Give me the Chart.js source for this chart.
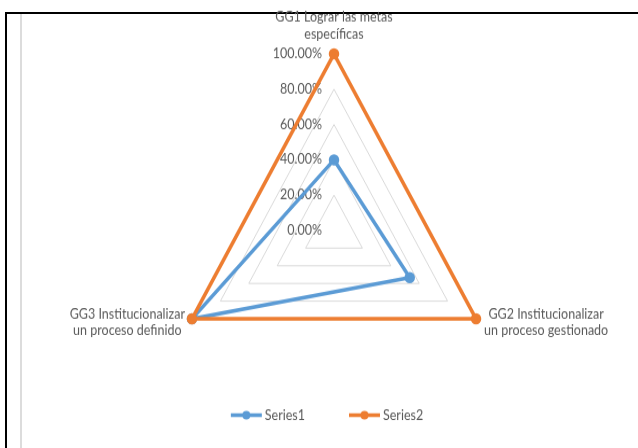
<!DOCTYPE html>
<html>
<head>
<meta charset="utf-8">
<script src="https://cdn.jsdelivr.net/npm/chart.js@4"></script>
<style>
body { margin: 0; background: #fff; overflow: hidden; }
#frame { position: absolute; left: 5px; top: 12px; width: 640px; height: 440px; border-left: 2px solid #000; border-top: 2px solid #000; }
#rule { position: absolute; left: 20px; top: 14px; width: 2px; height: 434px; background: #dcdcdc; }
#caja { position: absolute; left: 0; top: 0; width: 638px; height: 416px; transform: scaleY(1.0769); transform-origin: 0 0; }
</style>
</head>
<body>
<div id="frame"></div>
<div id="rule"></div>
<div id="caja"><canvas id="myChart" width="638" height="416"></canvas></div>
<script>
// datos del grafico radar
var categorias = [
    ['GG1 Lograr las metas', 'específicas'],
    ['GG2 Institucionalizar', 'un proceso gestionado'],
    ['GG3 Institucionalizar', 'un proceso definido']
];
var series1 = [40, 53.33, 100];
var series2 = [100, 100, 100];
var ejeMin = 0;
var ejeMax = 100;
var ejePaso = 20;

var colorTexto = '#595959';
var fuente = 'Lato, "Open Sans", sans-serif';
var tamFuente = 12.5;

// etiquetas del eje (0.00% ... 100.00%) a la izquierda del eje vertical
var etiquetasEje = {
    id: 'etiquetasEje',
    beforeDatasetsDraw: function(chart) {
        var r = chart.scales.r;
        var ctx = chart.ctx;
        ctx.save();
        ctx.font = tamFuente + 'px ' + fuente;
        ctx.fillStyle = colorTexto;
        ctx.textAlign = 'right';
        ctx.textBaseline = 'middle';
        r.ticks.forEach(function(t) {
            var y = r.yCenter - r.getDistanceFromCenterForValue(t.value);
            ctx.fillText(t.value.toFixed(2) + '%', r.xCenter - 12, y);
        });
        ctx.restore();
    }
};

// nombres de las categorias, centrados como en excel
var etiquetasPuntos = {
    id: 'etiquetasPuntos',
    afterDatasetsDraw: function(chart) {
        var r = chart.scales.r;
        var ctx = chart.ctx;
        var lh = 15.8;
        ctx.save();
        ctx.font = tamFuente + 'px ' + fuente;
        ctx.fillStyle = colorTexto;
        ctx.textAlign = 'center';
        ctx.textBaseline = 'middle';
        chart.data.labels.forEach(function(lineas, i) {
            var p = r.getPointPosition(i, r.drawingArea);
            var w = Math.max.apply(null, lineas.map(function(s) { return ctx.measureText(s).width; }));
            var n = lineas.length;
            var cx, cy;
            if (Math.abs(p.x - r.xCenter) < 1) {
                cx = p.x;
                cy = p.y - 18.4 - lh * (n - 1) / 2;
            } else if (p.x > r.xCenter) {
                cx = p.x + 8 + w / 2;
                cy = p.y + 3.5;
            } else {
                cx = p.x - 7 - w / 2;
                cy = p.y + 3.5;
            }
            lineas.forEach(function(s, j) {
                ctx.fillText(s, cx, cy + (j - (n - 1) / 2) * lh);
            });
        });
        ctx.restore();
    }
};

// leyenda con linea + marcador
var leyenda = {
    id: 'leyenda',
    afterDraw: function(chart) {
        var ctx = chart.ctx;
        var y = 385.5;
        var hueco = 44;
        ctx.save();
        ctx.font = tamFuente + 'px ' + fuente;
        var items = chart.data.datasets.map(function(ds) {
            return { ds: ds, w: 31 + 3 + ctx.measureText(ds.label).width };
        });
        var total = items.reduce(function(a, it) { return a + it.w; }, 0) + hueco * (items.length - 1);
        var x = chart.width / 2 + 8 - total / 2;
        items.forEach(function(it) {
            ctx.strokeStyle = it.ds.borderColor;
            ctx.lineWidth = 3.5;
            ctx.beginPath();
            ctx.moveTo(x, y);
            ctx.lineTo(x + 31, y);
            ctx.stroke();
            ctx.fillStyle = it.ds.borderColor;
            ctx.beginPath();
            ctx.arc(x + 15.5, y, 4, 0, Math.PI * 2);
            ctx.fill();
            ctx.fillStyle = colorTexto;
            ctx.textAlign = 'left';
            ctx.textBaseline = 'middle';
            ctx.fillText(it.ds.label, x + 34, y);
            x += it.w + hueco;
        });
        ctx.restore();
    }
};

new Chart(document.getElementById('myChart'), {
    type: 'radar',
    data: {
        labels: categorias,
        datasets: [{
            label: 'Series1',
            data: series1,
            borderColor: '#5B9BD5',
            backgroundColor: '#5B9BD5',
            pointBackgroundColor: '#5B9BD5',
            pointBorderColor: '#5B9BD5',
            borderWidth: 3.5,
            pointRadius: 3.5,
            fill: false,
            order: 1
        },
        {
            label: 'Series2',
            data: series2,
            borderColor: '#ED7D31',
            backgroundColor: '#ED7D31',
            pointBackgroundColor: '#ED7D31',
            pointBorderColor: '#ED7D31',
            borderWidth: 3.5,
            pointRadius: 3.5,
            fill: false,
            order: 0
        }]
    },
    options: {
        responsive: false,
        animation: false,
        layout: { padding: { top: 50, bottom: 38, left: 31, right: 0 } },
        plugins: { legend: { display: false }, tooltip: { enabled: false } },
        elements: { line: { tension: 0 } },
        scales: {
            r: {
                min: ejeMin,
                max: ejeMax,
                ticks: { stepSize: ejePaso, display: false },
                grid: { color: '#d9d9d9', lineWidth: 1 },
                angleLines: { display: false },
                pointLabels: { display: false }
            }
        }
    },
    plugins: [etiquetasEje, etiquetasPuntos, leyenda]
});
</script>
</body>
</html>
